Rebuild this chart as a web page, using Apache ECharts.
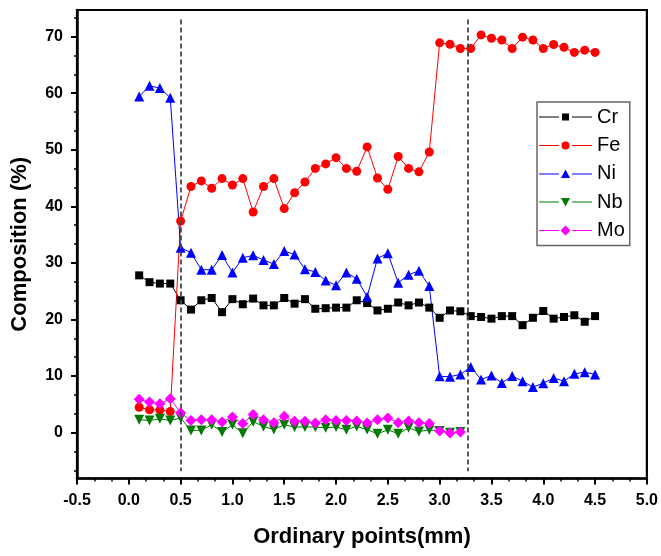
<!DOCTYPE html>
<html>
<head>
<meta charset="utf-8">
<script src="https://cdn.jsdelivr.net/npm/echarts@6/dist/echarts.min.js"></script>
<style>
html,body{margin:0;padding:0;background:#fff;}
#chart{width:661px;height:556px;}
</style>
</head>
<body>
<div id="chart"></div>
<script>
// x positions (mm)
var xAll = [0.1,0.2,0.3,0.4,0.5,0.6,0.7,0.8,0.9,1.0,1.1,1.2,1.3,1.4,1.5,1.6,1.7,1.8,1.9,2.0,2.1,2.2,2.3,2.4,2.5,2.6,2.7,2.8,2.9,3.0,3.1,3.2,3.3,3.4,3.5,3.6,3.7,3.8,3.9,4.0,4.1,4.2,4.3,4.4,4.5];
var xShort = [0.1,0.2,0.3,0.4,0.5,0.6,0.7,0.8,0.9,1.0,1.1,1.2,1.3,1.4,1.5,1.6,1.7,1.8,1.9,2.0,2.1,2.2,2.3,2.4,2.5,2.6,2.7,2.8,2.9,3.0,3.1,3.2];

var cr = [27.8,26.6,26.35,26.35,23.4,21.75,23.4,23.8,21.3,23.6,22.7,23.7,22.5,22.5,23.8,22.8,23.6,21.9,22.0,22.1,22.1,23.4,22.9,21.6,21.9,23.0,22.5,23.0,22.1,20.3,21.6,21.45,20.6,20.45,20.15,20.6,20.6,19.0,20.3,21.5,20.15,20.45,20.75,19.6,20.6];
var fe = [4.5,4.05,4.0,3.75,37.4,43.5,44.5,43.2,44.9,43.75,44.9,39.0,43.5,44.9,39.6,42.4,44.3,46.7,47.5,48.6,46.7,46.2,50.5,45.0,43.0,48.8,46.7,46.1,49.6,68.9,68.65,67.9,67.9,70.3,69.7,69.4,67.9,69.9,69.4,67.9,68.6,68.1,67.2,67.6,67.2];
var ni = [59.4,61.3,60.9,59.2,32.7,31.8,28.8,28.8,31.4,28.3,30.9,31.35,30.5,29.8,32.1,31.5,28.9,28.4,26.9,26.05,28.3,27.2,24.0,30.8,31.7,26.5,27.9,28.6,25.9,9.95,9.9,10.3,11.6,9.4,10.1,8.8,10.0,9.1,8.05,8.75,9.65,9.1,10.4,10.7,10.3];
var nb = [2.3,2.15,2.45,2.15,2.6,0.4,0.4,1.4,0.1,1.4,-0.1,1.95,1.1,0.55,1.4,1.0,1.0,1.0,0.85,1.0,0.5,1.1,0.55,-0.2,0.5,-0.2,0.85,0.2,0.5,0.3,0.0,0.1];
var mo = [5.9,5.4,5.1,6.0,3.5,2.15,2.3,2.3,1.9,2.75,1.6,3.2,2.3,1.75,2.9,2.0,2.0,1.7,2.3,2.15,2.15,2.05,1.7,2.3,2.6,1.75,2.05,1.75,1.6,0.3,-0.05,0.1];

var yTickLabels = [0,10,20,30,40,50,60,70];
var yMinorTicks = [-6.667,-3.333,3.333,6.667,13.333,16.667,23.333,26.667,33.333,36.667,43.333,46.667,53.333,56.667,63.333,66.667,73.333];
var dividerX = [0.5, 3.27];
var dividerYRange = [73.0, -6.8];

function pairs(xs, ys){ var out=[]; for (var i=0;i<ys.length;i++) out.push([xs[i], ys[i]]); return out; }

var FONT = 'Liberation Sans, Arial, sans-serif';
var chart = echarts.init(document.getElementById('chart'), null, {renderer:'canvas'});

var dividerLines = dividerX.map(function(x){
  return [{coord:[x, dividerYRange[0]]},{coord:[x, dividerYRange[1]]}];
});

// legend icons: line - marker - line, in a 53x10 box
var seg = 'M0 4.5 L20 4.5 L20 5.5 L0 5.5 Z M33 4.5 L53 4.5 L53 5.5 L33 5.5 Z ';
var legendIcons = {
  Cr: 'path://' + seg + 'M23 1.5 L30 1.5 L30 8.5 L23 8.5 Z',
  Fe: 'path://' + seg + 'M22.5 5 A4 4 0 1 1 30.5 5 A4 4 0 1 1 22.5 5 Z',
  Ni: 'path://' + seg + 'M26.5 0.5 L31 9 L22 9 Z',
  Nb: 'path://' + seg + 'M22 1 L31 1 L26.5 9.5 Z',
  Mo: 'path://' + seg + 'M26.5 0 L31.5 5 L26.5 10 L21.5 5 Z'
};

function mkSeries(name, xs, ys, color, symbol, size, rotate){
  return {
    name: name, type: 'line', data: pairs(xs, ys),
    symbol: symbol, symbolSize: size, symbolRotate: rotate || 0,
    showAllSymbol: true,
    lineStyle: {color: color, width: 1},
    itemStyle: {color: color},
    emphasis: {disabled: true}
  };
}

var series = [
  mkSeries('Cr', xAll, cr, '#000000', 'rect', 8),
  mkSeries('Fe', xAll, fe, '#ff0000', 'circle', 9),
  mkSeries('Ni', xAll, ni, '#0000ff', 'triangle', 10),
  mkSeries('Nb', xShort, nb, '#007a00', 'triangle', 10, 180),
  mkSeries('Mo', xShort, mo, '#ff00ff', 'diamond', 11)
];
series[0].markLine = {
  silent: true, symbol: ['none','none'], label: {show:false},
  lineStyle: {color:'#4a4a4a', type:[5,3], width:1.8},
  data: dividerLines
};

chart.setOption({
  animation: false,
  backgroundColor: '#ffffff',
  grid: {left: 77, right: 13, top: 10, bottom: 77.5, show: true, borderColor: '#000', borderWidth: 2.2, containLabel: false},
  legend: {
    orient: 'vertical', left: 537, top: 102,
    itemWidth: 53, itemHeight: 10, itemGap: 8.4,
    padding: [5, 5, 5, 2],
    symbolRotate: 0,
    backgroundColor: '#fff', borderColor: '#666', borderWidth: 1.5, borderRadius: 0,
    textStyle: {fontFamily: FONT, fontSize: 20, color: '#000', lineHeight: 20},
    data: ['Cr','Fe','Ni','Nb','Mo'].map(function(n){ return {name: n, icon: legendIcons[n]}; })
  },
  xAxis: {
    type: 'value', min: -0.5, max: 5.0, interval: 0.5,
    name: 'Ordinary points(mm)', nameLocation: 'middle', nameGap: 47,
    nameTextStyle: {fontFamily: FONT, fontSize: 22, fontWeight: 'bold', color: '#000'},
    axisLine: {show: true, onZero: false, lineStyle: {color:'#000', width: 2.5}},
    axisTick: {show: true, length: 6, lineStyle: {color:'#000', width: 2}},
    minorTick: {show: true, splitNumber: 3, length: 3, lineStyle: {color:'#000', width: 1.5}},
    axisLabel: {fontFamily: FONT, fontSize: 16, fontWeight: 'bold', color:'#000', margin: 14,
      formatter: function(v){ return v.toFixed(1); }},
    splitLine: {show: false}, minorSplitLine: {show: false}
  },
  yAxis: [{
    type: 'value', min: -8.1, max: 74.7,
    name: 'Composition (%)', nameLocation: 'middle', nameGap: 46,
    nameTextStyle: {fontFamily: FONT, fontSize: 22, fontWeight: 'bold', color: '#000'},
    axisLine: {show: true, onZero: false, lineStyle: {color:'#000', width: 2.5}},
    axisTick: {show: true, length: 6, customValues: yTickLabels, lineStyle: {color:'#000', width: 2}},
    axisLabel: {show: true, customValues: yTickLabels, fontFamily: FONT, fontSize: 16, fontWeight: 'bold', color:'#000', margin: 14},
    splitLine: {show: false}
  },{
    type: 'value', min: -8.1, max: 74.7, position: 'left', offset: 0,
    axisLine: {show: false, onZero: false},
    axisTick: {show: true, length: 3, customValues: yMinorTicks, lineStyle: {color:'#000', width: 1.5}},
    axisLabel: {show: false},
    splitLine: {show: false}
  }],
  series: series
});
</script>
</body>
</html>
